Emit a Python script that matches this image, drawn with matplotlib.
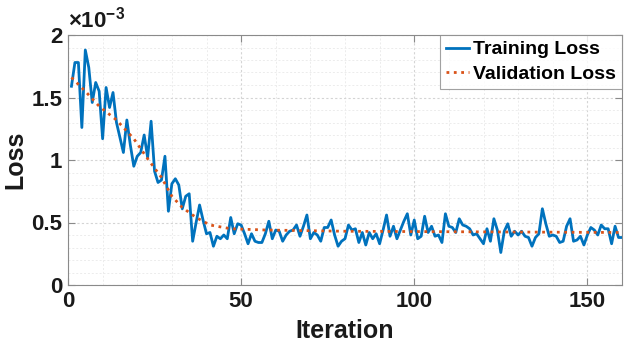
import matplotlib
matplotlib.use("Agg")
import matplotlib.pyplot as plt
from matplotlib.ticker import FuncFormatter, MultipleLocator

plt.rcParams['font.family'] = ['Liberation Sans', 'DejaVu Sans']
plt.rcParams['font.weight'] = 'bold'
plt.rcParams['mathtext.fontset'] = 'custom'
plt.rcParams['mathtext.rm'] = 'Liberation Sans:bold'
plt.rcParams['mathtext.bf'] = 'Liberation Sans:bold'
plt.rcParams['mathtext.it'] = 'Liberation Sans:bold'

# Training loss (x1e-3), iterations 1..160
train_vals = [
    1.59, 1.78, 1.78, 1.26, 1.88, 1.74, 1.46, 1.62, 1.55, 1.17,
    1.58, 1.42, 1.54, 1.30, 1.18, 1.06, 1.32, 1.12, 0.95, 1.03,
    1.06, 1.20, 1.02, 1.31, 0.91, 0.82, 0.84, 1.03, 0.59, 0.81,
    0.85, 0.80, 0.61, 0.71, 0.73, 0.35, 0.50, 0.64, 0.52, 0.41,
    0.42, 0.31, 0.39, 0.37, 0.40, 0.37, 0.54, 0.41, 0.49, 0.48,
    0.41, 0.33, 0.41, 0.35, 0.34, 0.34, 0.41, 0.51, 0.37, 0.44,
    0.43, 0.35, 0.40, 0.43, 0.44, 0.48, 0.39, 0.47, 0.56, 0.37,
    0.42, 0.40, 0.35, 0.46, 0.46, 0.52, 0.40, 0.31, 0.35, 0.37,
    0.48, 0.44, 0.45, 0.34, 0.42, 0.32, 0.42, 0.37, 0.41, 0.33,
    0.44, 0.56, 0.39, 0.47, 0.37, 0.44, 0.51, 0.57, 0.40, 0.52,
    0.37, 0.39, 0.55, 0.42, 0.47, 0.39, 0.40, 0.34, 0.57, 0.47,
    0.46, 0.42, 0.53, 0.48, 0.47, 0.45, 0.40, 0.41, 0.37, 0.33,
    0.45, 0.35, 0.53, 0.44, 0.26, 0.43, 0.49, 0.39, 0.43, 0.40,
    0.43, 0.39, 0.38, 0.31, 0.38, 0.41, 0.61, 0.49, 0.39, 0.40,
    0.39, 0.34, 0.35, 0.47, 0.53, 0.35, 0.36, 0.39, 0.32, 0.40,
    0.46, 0.44, 0.40, 0.48, 0.45, 0.45, 0.33, 0.47, 0.38, 0.38,
]
train_iters = list(range(1, len(train_vals) + 1))

# Validation loss (x1e-3)
val_iters = [1, 5, 9, 14, 19, 23, 27, 30, 33, 37, 41, 47, 57, 80, 160]
val_vals = [1.66, 1.55, 1.43, 1.32, 1.17, 1.01, 0.86, 0.71, 0.62, 0.54, 0.48, 0.45, 0.44, 0.43, 0.42]

x_ticks = [0, 50, 100, 150]
y_ticks = [0, 0.5e-3, 1.0e-3, 1.5e-3, 2.0e-3]

train = [v * 1e-3 for v in train_vals]
val = [v * 1e-3 for v in val_vals]

fig = plt.figure(figsize=(6.24, 3.47), dpi=100)
ax = fig.add_axes([68/624, 1-285/347, (622-68)/624, (285-35)/347])

ax.plot(train_iters, train, color='#0072BD', lw=2.0, label='Training Loss', zorder=3)
ax.plot(val_iters, val, color='#D95319', lw=2.0, ls=':', label='Validation Loss', zorder=4)

ax.set_xlim(0, 160)
ax.set_ylim(0, 2e-3)
ax.set_xticks(x_ticks)
ax.set_yticks(y_ticks)
ax.xaxis.set_minor_locator(MultipleLocator(10))
ax.yaxis.set_minor_locator(MultipleLocator(0.1e-3))
ax.yaxis.set_major_formatter(FuncFormatter(lambda v, p: ('%g' % round(v * 1e3, 3))))

ax.grid(True, which='major', color='#d4d4d4', ls=(0, (2, 2)), lw=0.8)
ax.grid(True, which='minor', color='#ececec', ls=(0, (2, 2)), lw=0.7)
ax.set_axisbelow(True)

for s in ax.spines.values():
    s.set_color('#8a8a8a')
    s.set_linewidth(0.8)
ax.tick_params(which='major', direction='in', length=5, width=0.8, color='#8a8a8a',
               top=True, right=True, labelsize=16, labelcolor='#1a1a1a', pad=4)
ax.tick_params(which='minor', length=0, top=True, right=True)

ax.set_xlabel('Iteration', fontsize=18, fontweight='bold', color='#1a1a1a', labelpad=5)
ax.set_ylabel('Loss', fontsize=18, fontweight='bold', color='#1a1a1a', labelpad=3)

ax.text(0.0, 1.01, r'$\times$10$^{-3}$', transform=ax.transAxes, fontsize=16,
        fontweight='bold', color='#1a1a1a', ha='left', va='bottom')

leg = ax.legend(loc='upper right', fontsize=14, frameon=True, fancybox=False,
                borderpad=0.3, handlelength=1.2, handletextpad=0.2, labelspacing=0.35,
                borderaxespad=0.0)
leg.get_frame().set_edgecolor('#8a8a8a')
leg.get_frame().set_linewidth(0.8)
for t in leg.get_texts():
    t.set_fontweight('bold')
    t.set_color('#000000')

fig.savefig('out.png', dpi=100)
